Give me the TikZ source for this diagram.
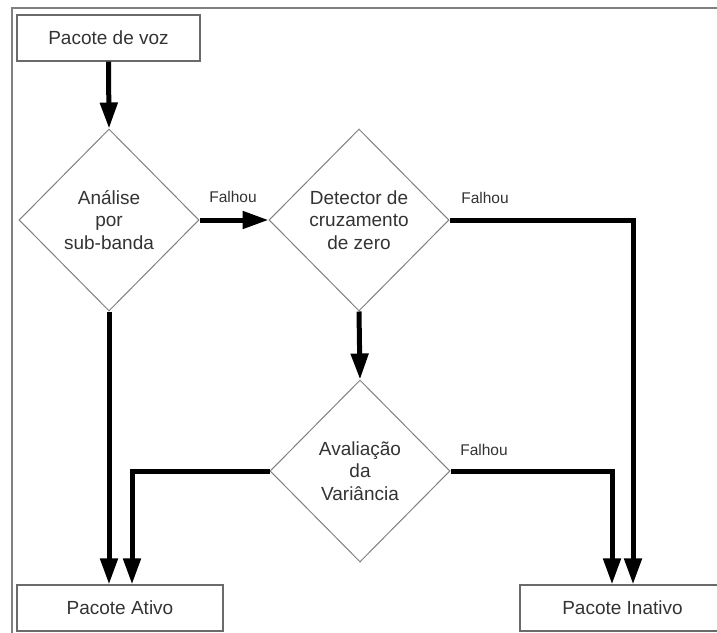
\documentclass[tikz,border=0pt]{standalone}
\usepackage{fontspec}
\setmainfont{Liberation Sans}
\usetikzlibrary{shapes.geometric,arrows.meta}
\definecolor{txt}{HTML}{333333}
\definecolor{edgegray}{HTML}{808080}
\definecolor{boxgray}{HTML}{6A6A6A}
\tikzset{
  boxnode/.style={draw=boxgray, line width=1.3pt, rectangle, inner sep=0pt,
    minimum height=46pt, text=txt, font=\fontsize{19}{22.7}\selectfont},
  decision/.style={draw=edgegray, line width=1pt, diamond, inner sep=0pt,
    minimum width=180pt, minimum height=182pt, align=center, text=txt,
    font=\fontsize{19}{22.7}\selectfont},
  flow/.style={line width=5pt, black, -{Triangle[length=26pt,width=17pt]}},
  faillabel/.style={text=txt, inner sep=0pt, font=\fontsize{15.5}{18}\selectfont},
}
\begin{document}
\begin{tikzpicture}[x=1pt,y=-1pt]
\useasboundingbox (0,0) rectangle (717,632);
% frame
\draw[edgegray, line width=1.6pt] (12,640) -- (12,8) -- (725,8);
% nodes
\node[boxnode, minimum width=183pt] (voz) at (108.5,38) {Pacote de voz};
\node[boxnode, minimum width=206pt] (ativo) at (120,608) {Pacote Ativo};
\node[boxnode, minimum width=205pt] (inativo) at (622.5,608) {Pacote Inativo};
\node[decision] (d1) at (109,220) {Análise\\por\\sub-banda};
\node[decision] (d2) at (359,220) {Detector de\\cruzamento\\de zero};
\node[decision] (d3) at (360,471) {Avaliação\\da\\Variância};
\node[faillabel] (f1) at (233,197) {Falhou};
\node[faillabel] (f2) at (485,198) {Falhou};
\node[faillabel] (f3) at (484,450) {Falhou};
% connectors
\coordinate (ain1) at ([xshift=-11pt]ativo.north);
\coordinate (ain2) at ([xshift=12pt]ativo.north);
\coordinate (iin1) at ([xshift=-10.5pt]inativo.north);
\coordinate (iin2) at ([xshift=10.5pt]inativo.north);
\draw[flow] (voz.south) -- (d1.north);
\draw[flow] (d1.east) -- (d2.west);
\draw[flow] (d2.east) -| (iin2);
\draw[flow] (d1.south) -- (d1.south |- ativo.north);
\draw[flow] (d2.south) -- (d3.north);
\draw[flow] (d3.west) -| (ain2);
\draw[flow] (d3.east) -| (iin1);
\end{tikzpicture}
\end{document}
